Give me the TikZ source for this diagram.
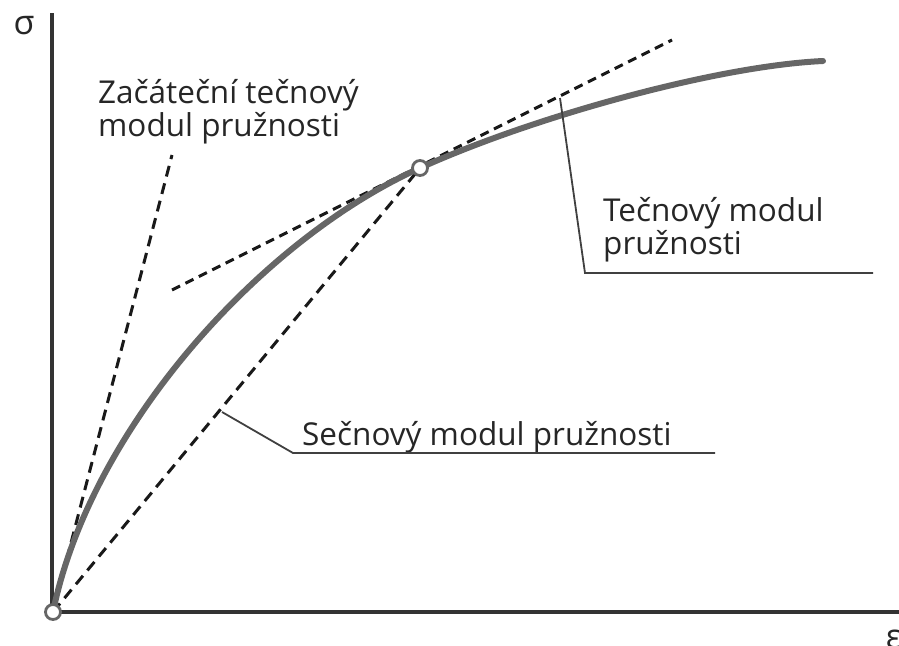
\documentclass[tikz,border=0pt]{standalone}
\usepackage{fontspec}
\setmainfont{Open Sans}
\begin{document}
\begin{tikzpicture}[x=1pt,y=-1pt,
  axisline/.style={line width=3.2pt,draw=black!80},
  curveline/.style={line width=6pt,draw=black!60},
  dashline/.style={line width=3pt,draw=black!90,dash pattern=on 11pt off 7pt},
  dashlineb/.style={line width=3pt,draw=black!90,dash pattern=on 9pt off 6pt},
  leader/.style={line width=1.8pt,draw=black!75},
  pt/.style={circle,draw=black!60,fill=white,line width=2.8pt,minimum size=15pt,inner sep=0pt},
  lbl/.style={inner sep=0pt,anchor=base west,align=left,text=black!85,font=\fontsize{31.5}{33}\selectfont},
  sym/.style={inner sep=0pt,text=black!85,font=\fontsize{34}{36}\selectfont}]
\useasboundingbox (0,0) rectangle (899,645);
% axes
\coordinate (ytop) at (52,13);
\coordinate (O) at (53,612);
\coordinate (xend) at (899,612);
\draw[axisline] (ytop) -- (52,612) -- (xend);
\node[sym] (sigma) at (24,26) {σ};
\node[sym,anchor=base] (eps) at (894,648) {ε};
% dashed lines
\coordinate (P) at (420,168);
\coordinate (itop) at (172,155);
\coordinate (tstart) at (172,290);
\coordinate (tend) at (672,40);
\draw[dashline] (O) -- (itop);
\draw[dashline] (O) -- (P);
\draw[dashlineb] (tstart) -- (tend);
% curve
\coordinate (cend) at (823,61);
\draw[curveline,line cap=round] (O) .. controls (90,430) and (260,240) .. (P)
   .. controls (530,118) and (715,66) .. (cend);
\node[pt] (Pn) at (P) {};
\node[pt] (On) at (O) {};
% labels (base = last line)
\node[lbl] (lab1) at (98,136) {Začáteční tečnový\\modul pružnosti};
\node[lbl] (lab2) at (603,254) {Tečnový modul\\pružnosti};
\node[lbl] (lab3) at (302,445) {Sečnový modul pružnosti};
% leaders
\coordinate (l2a) at (560,98);
\coordinate (l2b) at (585,273);
\coordinate (l2c) at (873,273);
\draw[leader] (l2a) -- (l2b) -- (l2c);
\coordinate (l3a) at (222,412);
\coordinate (l3b) at (293,453);
\coordinate (l3c) at (715,453);
\draw[leader] (l3a) -- (l3b) -- (l3c);
\end{tikzpicture}
\end{document}
